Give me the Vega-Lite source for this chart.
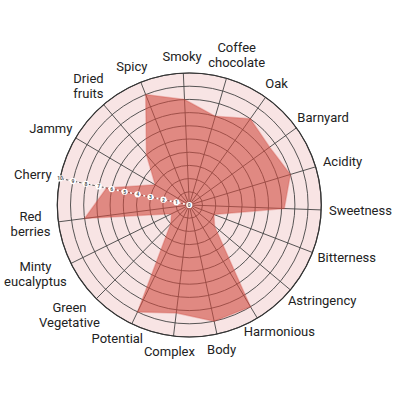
{
  "$schema": "https://vega.github.io/schema/vega-lite/v6.json",
  "width": 400,
  "height": 400,
  "padding": 0,
  "autosize": {"type": "none"},
  "background": "#ffffff",
  "config": {"view": {"stroke": null}, "font": "Roboto"},
  "datasets": {
    "profile": [
      {"idx": 0, "attribute": "Smoky", "score": 8},
      {"idx": 1, "attribute": "Coffee\nchocolate", "score": 7},
      {"idx": 2, "attribute": "Oak", "score": 8},
      {"idx": 3, "attribute": "Barnyard", "score": 7.5},
      {"idx": 4, "attribute": "Acidity", "score": 8},
      {"idx": 5, "attribute": "Sweetness", "score": 7.2},
      {"idx": 6, "attribute": "Bitterness", "score": 2},
      {"idx": 7, "attribute": "Astringency", "score": 2.5},
      {"idx": 8, "attribute": "Harmonious", "score": 9},
      {"idx": 9, "attribute": "Body", "score": 9},
      {"idx": 10, "attribute": "Complex", "score": 8.25},
      {"idx": 11, "attribute": "Potential", "score": 9},
      {"idx": 12, "attribute": "Green\nVegetative", "score": 2},
      {"idx": 13, "attribute": "Minty\neucalyptus", "score": 1.5},
      {"idx": 14, "attribute": "Red\nberries", "score": 8},
      {"idx": 15, "attribute": "Cherry", "score": 6.4},
      {"idx": 16, "attribute": "Jammy", "score": 3},
      {"idx": 17, "attribute": "Dried\nfruits", "score": 5},
      {"idx": 18, "attribute": "Spicy", "score": 9}
    ],
    "rings": [
      {"r": 1}, {"r": 2}, {"r": 3}, {"r": 4}, {"r": 5},
      {"r": 6}, {"r": 7}, {"r": 8}, {"r": 9}, {"r": 10}
    ],
    "ticks": [
      {"t": 0}, {"t": 1}, {"t": 2}, {"t": 3}, {"t": 4}, {"t": 5},
      {"t": 6}, {"t": 7}, {"t": 8}, {"t": 9}, {"t": 10}
    ]
  },
  "layer": [
    {
      "data": {"name": "rings"},
      "transform": [{"filter": "datum.r == 10"}, {"calculate": "0", "as": "o"}],
      "mark": {"type": "point", "shape": "circle", "filled": true, "fill": "#f8e4e4", "opacity": 1, "strokeWidth": 0},
      "encoding": {
        "x": {"field": "o", "type": "quantitative", "scale": {"domain": [-14.341, 15.962], "nice": false, "zero": false}, "axis": null},
        "y": {"field": "o", "type": "quantitative", "scale": {"domain": [-14.773, 15.53], "nice": false, "zero": false}, "axis": null},
        "size": {"field": "r", "type": "quantitative", "scale": {"type": "pow", "exponent": 2, "domain": [0, 10], "range": [0, 69696]}, "legend": null}
      }
    },
    {
      "data": {"name": "profile"},
      "transform": [
        {"calculate": "(datum.idx*360/19-2.6)*PI/180", "as": "theta"},
        {"calculate": "0", "as": "o"},
        {"calculate": "10*sin(datum.theta)", "as": "sx"},
        {"calculate": "10*cos(datum.theta)", "as": "sy"}
      ],
      "mark": {"type": "rule", "stroke": "#444444", "strokeWidth": 0.9},
      "encoding": {
        "x": {"field": "o", "type": "quantitative", "scale": {"domain": [-14.341, 15.962], "nice": false, "zero": false}, "axis": null},
        "y": {"field": "o", "type": "quantitative", "scale": {"domain": [-14.773, 15.53], "nice": false, "zero": false}, "axis": null},
        "x2": {"field": "sx"},
        "y2": {"field": "sy"}
      }
    },
    {
      "data": {"name": "rings"},
      "transform": [{"calculate": "0", "as": "o"}],
      "mark": {"type": "point", "shape": "circle", "filled": false, "fill": null, "stroke": "#444444", "strokeWidth": 0.9, "opacity": 1},
      "encoding": {
        "x": {"field": "o", "type": "quantitative", "scale": {"domain": [-14.341, 15.962], "nice": false, "zero": false}, "axis": null},
        "y": {"field": "o", "type": "quantitative", "scale": {"domain": [-14.773, 15.53], "nice": false, "zero": false}, "axis": null},
        "size": {"field": "r", "type": "quantitative", "scale": {"type": "pow", "exponent": 2, "domain": [0, 10], "range": [0, 69696]}, "legend": null}
      }
    },
    {
      "data": {"name": "profile"},
      "transform": [
        {"calculate": "(datum.idx*360/19-2.6)*PI/180", "as": "theta"},
        {"calculate": "datum.score*sin(datum.theta)", "as": "px"},
        {"calculate": "datum.score*cos(datum.theta)", "as": "py"}
      ],
      "mark": {"type": "line", "interpolate": "linear-closed", "fill": "#d04c41", "fillOpacity": 0.6, "stroke": "#d04c41", "strokeOpacity": 0.3, "strokeWidth": 1.5},
      "encoding": {
        "x": {"field": "px", "type": "quantitative", "scale": {"domain": [-14.341, 15.962], "nice": false, "zero": false}, "axis": null},
        "y": {"field": "py", "type": "quantitative", "scale": {"domain": [-14.773, 15.53], "nice": false, "zero": false}, "axis": null},
        "order": {"field": "idx", "type": "quantitative"}
      }
    },
    {
      "data": {"name": "rings"},
      "transform": [{"filter": "datum.r == 10"}, {"calculate": "0", "as": "o"}],
      "mark": {"type": "point", "shape": "circle", "filled": false, "fill": null, "stroke": "#333333", "strokeWidth": 1.2, "opacity": 1},
      "encoding": {
        "x": {"field": "o", "type": "quantitative", "scale": {"domain": [-14.341, 15.962], "nice": false, "zero": false}, "axis": null},
        "y": {"field": "o", "type": "quantitative", "scale": {"domain": [-14.773, 15.53], "nice": false, "zero": false}, "axis": null},
        "size": {"field": "r", "type": "quantitative", "scale": {"type": "pow", "exponent": 2, "domain": [0, 10], "range": [0, 69696]}, "legend": null}
      }
    },
    {
      "data": {"name": "ticks"},
      "transform": [
        {"filter": "datum.t == 10"},
        {"calculate": "(15*360/19-2.6)*PI/180", "as": "theta"},
        {"calculate": "0", "as": "o"},
        {"calculate": "datum.t*sin(datum.theta)", "as": "ex"},
        {"calculate": "datum.t*cos(datum.theta)", "as": "ey"}
      ],
      "mark": {"type": "rule", "stroke": "#ffffff", "strokeWidth": 1.6, "strokeDash": [2, 2.5]},
      "encoding": {
        "x": {"field": "o", "type": "quantitative", "scale": {"domain": [-14.341, 15.962], "nice": false, "zero": false}, "axis": null},
        "y": {"field": "o", "type": "quantitative", "scale": {"domain": [-14.773, 15.53], "nice": false, "zero": false}, "axis": null},
        "x2": {"field": "ex"},
        "y2": {"field": "ey"}
      }
    },
    {
      "data": {"name": "ticks"},
      "transform": [
        {"calculate": "(15*360/19-2.6)*PI/180", "as": "theta"},
        {"calculate": "datum.t*sin(datum.theta)", "as": "tx"},
        {"calculate": "datum.t*cos(datum.theta)", "as": "ty"}
      ],
      "mark": {"type": "point", "shape": "circle", "filled": true, "color": "#ffffff", "opacity": 1, "size": 38},
      "encoding": {
        "x": {"field": "tx", "type": "quantitative", "scale": {"domain": [-14.341, 15.962], "nice": false, "zero": false}, "axis": null},
        "y": {"field": "ty", "type": "quantitative", "scale": {"domain": [-14.773, 15.53], "nice": false, "zero": false}, "axis": null}
      }
    },
    {
      "data": {"name": "ticks"},
      "transform": [
        {"calculate": "(15*360/19-2.6)*PI/180", "as": "theta"},
        {"calculate": "datum.t*sin(datum.theta)", "as": "tx"},
        {"calculate": "datum.t*cos(datum.theta)", "as": "ty"}
      ],
      "mark": {"type": "text", "fontSize": 5, "fontWeight": "bold", "color": "#555555", "align": "center", "baseline": "middle"},
      "encoding": {
        "x": {"field": "tx", "type": "quantitative", "scale": {"domain": [-14.341, 15.962], "nice": false, "zero": false}, "axis": null},
        "y": {"field": "ty", "type": "quantitative", "scale": {"domain": [-14.773, 15.53], "nice": false, "zero": false}, "axis": null},
        "text": {"field": "t", "type": "quantitative"}
      }
    },
    {
      "data": {"name": "profile"},
      "transform": [
        {"calculate": "(datum.idx*360/19-2.6)*PI/180", "as": "theta"},
        {"calculate": "split(datum.attribute, '\\n')", "as": "lines"},
        {"calculate": "length(datum.lines)", "as": "nl"},
        {"calculate": "6.7*length(datum.lines[0]) + 3.1*length(replace(datum.lines[0], regexp('[^mwMWHC]', 'g'), '')) - 2.9*length(replace(datum.lines[0], regexp('[^ilfjtrI]', 'g'), ''))", "as": "w0"},
        {"calculate": "datum.nl > 1 ? 6.7*length(datum.lines[1]) + 3.1*length(replace(datum.lines[1], regexp('[^mwMWHC]', 'g'), '')) - 2.9*length(replace(datum.lines[1], regexp('[^ilfjtrI]', 'g'), '')) : 0", "as": "w1"},
        {"calculate": "max(datum.w0, datum.w1)", "as": "w"},
        {"calculate": "sin(datum.theta)*(141 + datum.w/2)/13.2", "as": "lx"},
        {"calculate": "(cos(datum.theta)*(141 + datum.nl*7.5) + (datum.nl-1)*7.5)/13.2", "as": "ly"}
      ],
      "mark": {"type": "text", "fontSize": 13, "lineHeight": 15, "lineBreak": "\n", "color": "#222222", "align": "center", "baseline": "middle"},
      "encoding": {
        "x": {"field": "lx", "type": "quantitative", "scale": {"domain": [-14.341, 15.962], "nice": false, "zero": false}, "axis": null},
        "y": {"field": "ly", "type": "quantitative", "scale": {"domain": [-14.773, 15.53], "nice": false, "zero": false}, "axis": null},
        "text": {"field": "attribute", "type": "nominal"}
      }
    }
  ]
}
